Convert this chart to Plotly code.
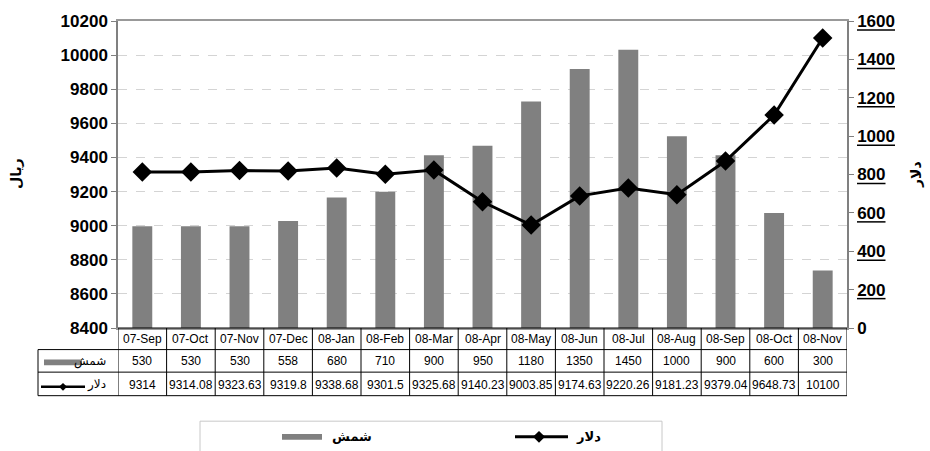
import plotly.graph_objects as go

# Monthly series
months = ["07-Sep", "07-Oct", "07-Nov", "07-Dec", "08-Jan", "08-Feb", "08-Mar",
          "08-Apr", "08-May", "08-Jun", "08-Jul", "08-Aug", "08-Sep", "08-Oct", "08-Nov"]
gold = [530, 530, 530, 558, 680, 710, 900, 950, 1180, 1350, 1450, 1000, 900, 600, 300]
dollar = [9314, 9314.08, 9323.63, 9319.8, 9338.68, 9301.5, 9325.68, 9140.23,
          9003.85, 9174.63, 9220.26, 9181.23, 9379.04, 9648.73, 10100]
right_ticks = [0, 200, 400, 600, 800, 1000, 1200, 1400, 1600]

gold_name = "شمش"
dollar_name = "دلار"
left_title = "ریال"
right_title = "دلار"

W, H = 930, 451
L, R, T, B = 118, 847, 15, 328          # plot area in pixels
PW, PH = R - L, B - T


def px(x):
    return (x - L) / PW


def py(y):
    return (B - y) / PH


def fmt(v):
    return ("%.2f" % v).rstrip("0").rstrip(".")


FONT = "Liberation Sans, Arial, DejaVu Sans, sans-serif"
AR_FONT = "DejaVu Sans, sans-serif"
GRAY = "#808080"

fig = go.Figure()
fig.add_trace(go.Bar(x=months, y=gold, name=gold_name, marker_color=GRAY,
                     marker_line_width=0, yaxis="y", showlegend=False))
fig.add_trace(go.Scatter(x=months, y=dollar, name=dollar_name, yaxis="y2",
                         mode="lines+markers",
                         line=dict(color="black", width=3),
                         marker=dict(symbol="diamond", size=15, color="black"),
                         showlegend=False))

shapes = []
annotations = []


def note(x, y, text, font, xref="paper", **kw):
    d = dict(x=x, y=y, xref=xref, yref="paper", text=text, showarrow=False,
             xanchor="center", yanchor="middle", font=font)
    d.update(kw)
    annotations.append(d)


# data table grid
row_y = [B, 350, 373, 397]
line_style = dict(color="black", width=1)
shapes.append(dict(type="line", xref="paper", yref="paper", x0=0, x1=1,
                   y0=py(row_y[0]), y1=py(row_y[0]), line=line_style))
for yy in row_y[1:]:
    shapes.append(dict(type="line", xref="paper", yref="paper", x0=px(38), x1=1,
                       y0=py(yy), y1=py(yy), line=line_style))
shapes.append(dict(type="line", xref="paper", yref="paper", x0=px(38), x1=px(38),
                   y0=py(350), y1=py(397), line=line_style))
for k in range(len(months) + 1):
    shapes.append(dict(type="line", xref="x", yref="paper", x0=k - 0.5, x1=k - 0.5,
                       y0=py(B), y1=py(397), line=line_style))

cell_font = dict(family=FONT, size=12, color="black")
for m, g, d in zip(months, gold, dollar):
    note(m, py(339), m, cell_font, xref="x")
    note(m, py(362), fmt(g), cell_font, xref="x")
    note(m, py(386), fmt(d), cell_font, xref="x")

# table row keys
key_font = dict(family=AR_FONT, size=12, color="black")
note(px(108), py(362), gold_name, key_font, xanchor="right")
shapes.append(dict(type="rect", xref="paper", yref="paper", x0=px(44), x1=px(82),
                   y0=py(360), y1=py(366), fillcolor=GRAY, line_width=0))
note(px(108), py(386), dollar_name, key_font, xanchor="right")
shapes.append(dict(type="line", xref="paper", yref="paper", x0=px(41), x1=px(85),
                   y0=py(388), y1=py(388), line=dict(color="black", width=2.5)))


def diamond(cx, cy, r):
    return (f"M {px(cx - r)} {py(cy)} L {px(cx)} {py(cy - r)} "
            f"L {px(cx + r)} {py(cy)} L {px(cx)} {py(cy + r)} Z")


shapes.append(dict(type="path", xref="paper", yref="paper", path=diamond(63, 388, 4),
                   fillcolor="black", line_width=0))

# bottom legend
legend_font = dict(family=AR_FONT, size=13, color="black")
shapes.append(dict(type="rect", xref="paper", yref="paper", x0=px(200), x1=px(662),
                   y0=py(423), y1=py(470), line=dict(color="#c8c8c8", width=1),
                   fillcolor="rgba(0,0,0,0)"))
shapes.append(dict(type="rect", xref="paper", yref="paper", x0=px(282), x1=px(322),
                   y0=py(436), y1=py(442), fillcolor=GRAY, line_width=0))
note(px(330), py(439), "<b>" + gold_name + "</b>", legend_font, xanchor="left")
shapes.append(dict(type="line", xref="paper", yref="paper", x0=px(515), x1=px(568),
                   y0=py(439), y1=py(439), line=dict(color="black", width=3)))
shapes.append(dict(type="path", xref="paper", yref="paper", path=diamond(539, 439, 6),
                   fillcolor="black", line_width=0))
note(px(574), py(439), "<b>" + dollar_name + "</b>", legend_font, xanchor="left")

# axis titles
title_font = dict(family=AR_FONT, size=14, color="black")
note(px(16), py(171), "<b>" + left_title + "</b>", title_font, textangle=-90)
note(px(916), py(171), "<b>" + right_title + "</b>", title_font, textangle=-90)

# underline beneath each right-hand tick label
for v in right_ticks:
    shapes.append(dict(type="line", xref="paper", yref="y", xsizemode="pixel",
                       ysizemode="pixel", xanchor=1, yanchor=v,
                       x0=10, x1=10 + 9.5 * len(str(v)), y0=-9, y1=-9,
                       line=dict(color="black", width=1.5)))

fig.update_layout(
    width=W, height=H,
    margin=dict(l=L, r=W - R, t=T, b=H - B, pad=0),
    paper_bgcolor="white", plot_bgcolor="white",
    bargap=0.59,
    xaxis=dict(type="category", range=[-0.5, len(months) - 0.5],
               showticklabels=False, ticks="", showgrid=False, zeroline=False,
               showline=True, mirror=True, linecolor="#999999", linewidth=1.5),
    yaxis=dict(side="right", range=[0, 1600], tickvals=right_ticks,
               ticks="outside", ticklen=5, tickcolor=GRAY, showgrid=False,
               zeroline=False, showline=True, linecolor=GRAY, linewidth=1.5,
               tickfont=dict(family=FONT, size=17, color="black", weight="bold")),
    yaxis2=dict(side="left", overlaying="y", range=[8400, 10200], dtick=200, tick0=8400,
                tickformat="d",
                ticks="outside", ticklen=5, tickcolor=GRAY, showgrid=True,
                gridcolor="#d4d4d4", griddash="dash", gridwidth=1,
                zeroline=False, showline=True, linecolor=GRAY, linewidth=1.5,
                tickfont=dict(family=FONT, size=17, color="black", weight="bold")),
    shapes=shapes,
    annotations=annotations,
    showlegend=False,
)

fig.write_html("out.html")
